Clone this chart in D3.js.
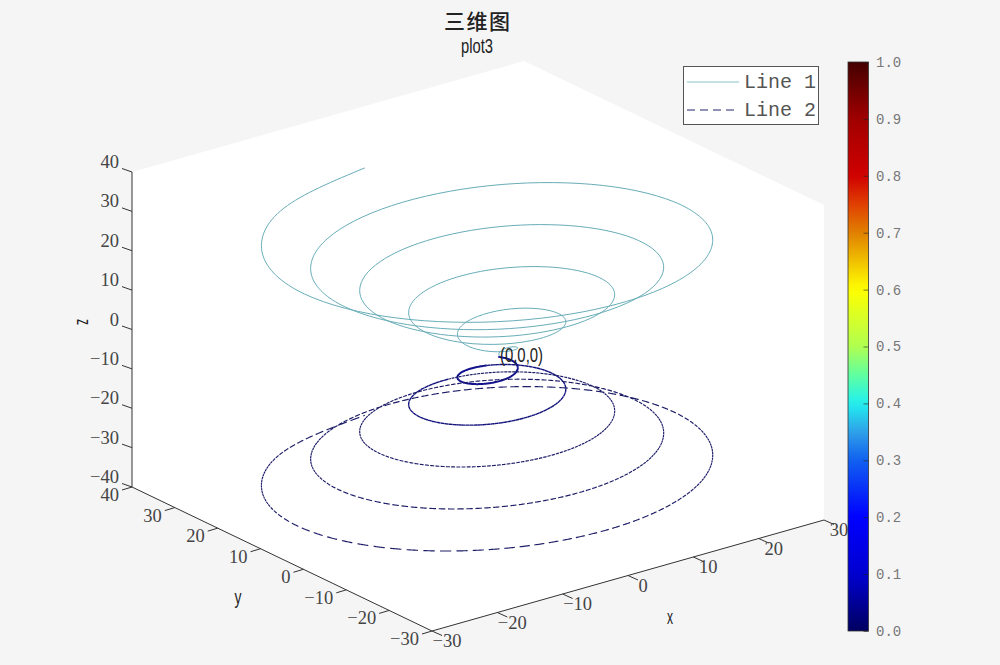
<!DOCTYPE html>
<html>
<head>
<meta charset="utf-8">
<script src="https://cdn.jsdelivr.net/npm/d3@7"></script>
<style>
html,body{margin:0;padding:0;background:#f5f5f6;}
svg{display:block;}
</style>
</head>
<body>
<svg id="chart" width="1000" height="665"></svg>
<script>
const titleText = "三维图";
const subtitleText = "plot3";
const originLabel = "(0,0,0)";
const legendLabels = ["Line 1", "Line 2"];
const xDomain = [-30, 30];
const yDomain = [-30, 40];
const zDomain = [-40, 40];
const xTicks = [-30, -20, -10, 0, 10, 20, 30];
const yTicks = [-30, -20, -10, 0, 10, 20, 30, 40];
const zTicks = [-40, -30, -20, -10, 0, 10, 20, 30, 40];
const colorbarTicks = [0, 0.1, 0.2, 0.3, 0.4, 0.5, 0.6, 0.7, 0.8, 0.9, 1];
const jetStops = [0, 0.1, 0.2, 0.3, 0.35, 0.4, 0.45, 0.5, 0.6, 0.65, 0.7, 0.75, 0.8, 0.9, 1];
const jetColors = ["#000060", "#0000d0", "#0000ff", "#1060f0", "#30a0e8", "#20f0f0", "#60ffa0", "#b0ff50", "#ffff00", "#f0c000", "#e08000", "#e04000", "#d00000", "#a00000", "#440000"];

const spiralX = [0,0.26,0.91,1.57,1.81,1.31,0,-1.83,-3.63,-4.71,-4.53,-2.88,0,3.40,6.35,7.85,7.26,4.45,0,-4.97,-9.07,-11.00,-9.98,-6.02,0,6.55,11.79,14.14,12.70,7.59,0,-8.12,-14.51,-17.28,-15.42,-9.16,0,9.69,17.23,20.42,18.14,10.73,0,-11.26,-19.95,-23.56,-20.86,-12.30,0,12.83,22.67,26.70,23.58,13.88,0,-14.40,-25.39,-29.85,-26.30,-15.45,0];
const spiralY = [0,0.45,0.52,0,-1.05,-2.27,-3.14,-3.17,-2.09,0,2.62,4.99,6.28,5.89,3.67,0,-4.19,-7.71,-9.42,-8.62,-5.24,0,5.76,10.43,12.57,11.34,6.81,0,-7.33,-13.15,-15.71,-14.06,-8.38,0,8.90,15.87,18.85,16.78,9.95,0,-10.47,-18.59,-21.99,-19.50,-11.52,0,12.04,21.31,25.13,22.22,13.09,0,-13.61,-24.03,-28.27,-24.94,-14.66,0,15.18,26.75,31.42];
const line1Z = [0,0.52,1.05,1.57,2.09,2.62,3.14,3.67,4.19,4.71,5.24,5.76,6.28,6.81,7.33,7.85,8.38,8.90,9.42,9.95,10.47,11.00,11.52,12.04,12.57,13.09,13.61,14.14,14.66,15.18,15.71,16.23,16.76,17.28,17.80,18.33,18.85,19.37,19.90,20.42,20.94,21.47,21.99,22.51,23.04,23.56,24.09,24.61,25.13,25.66,26.18,26.70,27.23,27.75,28.27,28.80,29.32,29.85,30.37,30.89,31.42];
const line2Z = [0,-0.52,-1.05,-1.57,-2.09,-2.62,-3.14,-3.67,-4.19,-4.71,-5.24,-5.76,-6.28,-6.81,-7.33,-7.85,-8.38,-8.90,-9.42,-9.95,-10.47,-11.00,-11.52,-12.04,-12.57,-13.09,-13.61,-14.14,-14.66,-15.18,-15.71,-16.23,-16.76,-17.28,-17.80,-18.33,-18.85,-19.37,-19.90,-20.42,-20.94,-21.47,-21.99,-22.51,-23.04,-23.56,-24.09,-24.61,-25.13,-25.66,-26.18,-26.70,-27.23,-27.75,-28.27,-28.80,-29.32,-29.85,-30.37,-30.89,-31.42];

const svg = d3.select("#chart");
const W = 1000, H = 665;
const BG = "#f5f5f6", TICK = "#444";
const SERIF = "'Liberation Serif',serif", SANS = "'Liberation Sans',sans-serif", MONO = "'Liberation Mono',monospace";

svg.append("rect").attr("width", W).attr("height", H).attr("fill", BG);

// oblique 3-D projection, expressed as one linear scale per screen contribution
const ox = 432, oy = 631;
const xToSx = d3.scaleLinear().domain(xDomain).range([0, 392]);
const xToSy = d3.scaleLinear().domain(xDomain).range([0, -111]);
const yToSx = d3.scaleLinear().domain(yDomain).range([0, -300]);
const yToSy = d3.scaleLinear().domain(yDomain).range([0, -144]);
const zToSy = d3.scaleLinear().domain(zDomain).range([0, -315]);
const px = (x, y) => ox + xToSx(x) + yToSx(y);
const py = (x, y, z) => oy + xToSy(x) + yToSy(y) + zToSy(z);
const P = (x, y, z) => [px(x, y), py(x, y, z)];

const [x0, x1] = xDomain, [y0, y1] = yDomain, [z0, z1] = zDomain;

// white plot cube silhouette
const hullPts = [P(x0,y1,z0), P(x0,y1,z1), P(x1,y1,z1), P(x1,y0,z1), P(x1,y0,z0), P(x0,y0,z0)];
svg.append("path").attr("d", d3.line()(hullPts) + "Z").attr("fill", "#ffffff");

// axis lines
const axisG = svg.append("g").attr("fill", "none").attr("stroke", "#333").attr("stroke-width", 1);
axisG.append("path").attr("d", d3.line()([P(x0,y1,z1), P(x0,y1,z0), P(x0,y0,z0), P(x1,y0,z0)]));

// ticks
const tickG = svg.append("g");
function ticks(vals, pt, dx, dy, lx, ly, anchor) {
  vals.forEach(v => {
    const [a, b] = pt(v);
    tickG.append("line").attr("x1", a).attr("y1", b).attr("x2", a + dx).attr("y2", b + dy)
      .attr("stroke", "#333").attr("stroke-width", 1);
    tickG.append("text").attr("x", a + lx).attr("y", b + ly).attr("text-anchor", anchor)
      .attr("font-family", SERIF).attr("font-size", 18.5).attr("fill", TICK)
      .text(String(v).replace("-", "\u2212"));
  });
}
ticks(xTicks, v => P(v, y0, z0), 10, 4.5, 15, 16, "middle");
ticks(yTicks, v => P(x0, v, z0), -10, 3, -13, 14, "end");
ticks(zTicks, v => P(x0, y1, v), -10, -3.5, -13, -4, "end");

// series
const curve = d3.line().curve(d3.curveNatural);
const line1Pts = spiralX.map((x, i) => P(x, spiralY[i], line1Z[i]));
const line2Pts = spiralX.map((x, i) => P(x, spiralY[i], line2Z[i]));

svg.append("path").attr("d", curve(line1Pts)).attr("fill", "none")
  .attr("stroke", "#68adb8").attr("stroke-width", 1);

// Line 2: the dash runs get longer along the spiral and on flatter stretches
const probe = svg.append("path").attr("d", curve(line2Pts)).attr("fill", "none").attr("stroke", "none");
const node = probe.node();
const total = node.getTotalLength();
const buckets = [[], [], []];
let s = 0;
while (s < total) {
  const f = s / total;
  const a = node.getPointAtLength(s), b = node.getPointAtLength(Math.min(total, s + 1));
  const h = Math.abs(b.x - a.x) / Math.max(0.001, Math.hypot(b.x - a.x, b.y - a.y));
  const k = Math.pow(f, 1.6) * Math.pow(h, 7);
  let on = 2.4 + 11 * k, off = 0.45 + 6 * k;
  if (f < 0.045) { on = 6; off = 0; }
  else if (f < 0.16) { off = 0.2; on = 4; }
  const end = Math.min(total, s + on);
  const seg = [];
  for (let q = s; q < end; q += 1) { const p = node.getPointAtLength(q); seg.push([p.x, p.y]); }
  const e = node.getPointAtLength(end); seg.push([e.x, e.y]);
  buckets[f < 0.045 ? 0 : f < 0.16 ? 1 : 2].push(d3.line()(seg));
  s = end + off;
}
const widths = [2, 1.4, 1.15], cols = ["#12128c", "#15157e", "#1e1e68"];
buckets.forEach((b, i) => svg.append("path").attr("d", b.join("")).attr("fill", "none")
  .attr("stroke", cols[i]).attr("stroke-width", widths[i]));

// labels
function narrow(txt, x, y, size, len, anchor) {
  return svg.append("text").attr("x", x).attr("y", y).attr("font-family", SANS).attr("font-size", size)
    .attr("fill", "#222").attr("text-anchor", anchor || "middle")
    .attr("textLength", len).attr("lengthAdjust", "spacingAndGlyphs").text(txt);
}
svg.append("text").attr("x", 477).attr("y", 29).attr("text-anchor", "middle")
  .attr("font-family", "'Noto Sans CJK SC',sans-serif").attr("font-size", 21).attr("font-weight", 500).attr("fill", "#222")
  .attr("textLength", 66).text(titleText);
narrow(subtitleText, 477, 53, 21, 32);
narrow(originLabel, 500, 362, 20, 43, "start");
narrow("x", 670, 623.5, 21, 6);
narrow("y", 238, 604, 21, 7);
svg.append("text").attr("transform", "translate(77,322) rotate(90)").attr("text-anchor", "middle")
  .attr("font-family", SANS).attr("font-size", 21).attr("fill", "#222")
  .attr("textLength", 6).attr("lengthAdjust", "spacingAndGlyphs").text("z");

// legend
const lg = svg.append("g");
lg.append("rect").attr("x", 683.5).attr("y", 66.5).attr("width", 135).attr("height", 58)
  .attr("fill", "#ffffff").attr("stroke", "#555").attr("stroke-width", 1);
lg.append("line").attr("x1", 687).attr("x2", 739).attr("y1", 82).attr("y2", 82)
  .attr("stroke", "#8cc3cc").attr("stroke-width", 1);
lg.append("line").attr("x1", 687).attr("x2", 739).attr("y1", 110).attr("y2", 110)
  .attr("stroke", "#24246c").attr("stroke-width", 1).attr("stroke-dasharray", "8 5");
legendLabels.forEach((t, i) => lg.append("text").attr("x", 744).attr("y", 88 + i * 28)
  .attr("font-family", MONO).attr("font-size", 20).attr("fill", "#555")
  .attr("textLength", 72).attr("lengthAdjust", "spacingAndGlyphs").text(t));

// colorbar
const cbTop = 62, cbBottom = 631, cbLeft = 848, cbRight = 868.5;
const cbScale = d3.scaleLinear().domain([0, 1]).range([cbBottom, cbTop]);
const jet = d3.scaleLinear().domain(jetStops).range(jetColors);
const defs = svg.append("defs");
const grad = defs.append("linearGradient").attr("id", "jet").attr("x1", 0).attr("y1", 1).attr("x2", 0).attr("y2", 0);
d3.range(0, 1.0001, 1 / 64).forEach(v => grad.append("stop").attr("offset", v).attr("stop-color", jet(v)));
svg.append("rect").attr("x", cbLeft).attr("y", cbTop).attr("width", cbRight - cbLeft).attr("height", cbBottom - cbTop)
  .attr("fill", "url(#jet)").attr("stroke", "#333").attr("stroke-width", 0.8);
const cbAxis = svg.append("g").attr("transform", `translate(${cbRight},0)`)
  .call(d3.axisRight(cbScale).tickValues(colorbarTicks).tickFormat(d3.format(".1f")).tickSize(-5).tickPadding(7.5));
cbAxis.select(".domain").remove();
cbAxis.selectAll("line").attr("stroke", "#222").attr("stroke-opacity", 0.6);
cbAxis.selectAll("text").attr("font-family", MONO).attr("font-size", 14).attr("fill", "#777");
</script>
</body>
</html>
